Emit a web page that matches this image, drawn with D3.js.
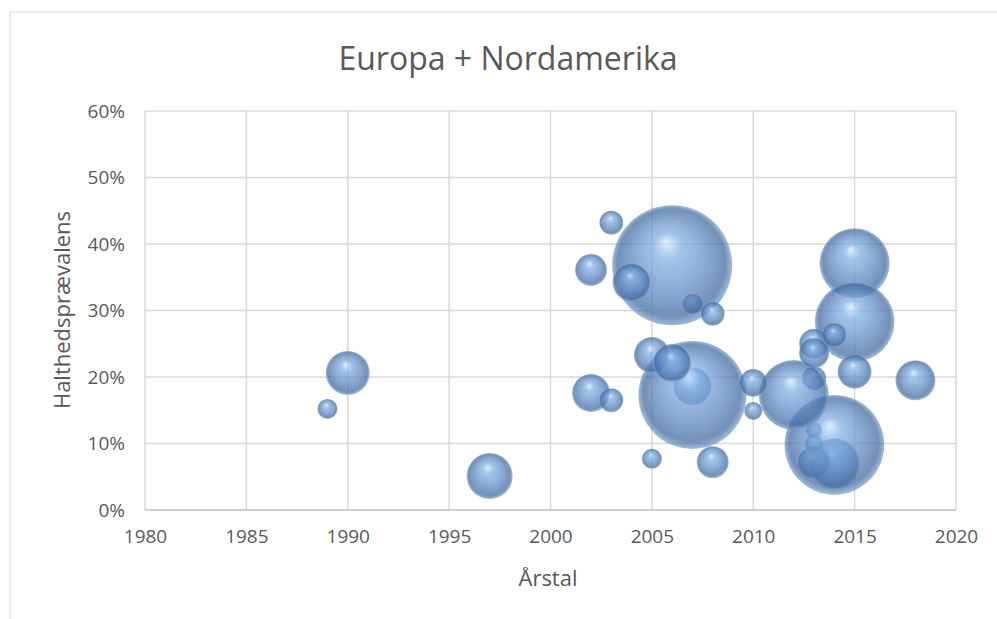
<!DOCTYPE html>
<html>
<head>
<meta charset="utf-8">
<script src="https://cdn.jsdelivr.net/npm/d3@7"></script>
<style>
	body { margin: 0; background: #fff; }
	svg { display: block; }
</style>
</head>
<body>
<svg width="997" height="619"></svg>
<script>
// data: year, prevalence, bubble size
// listed in drawing order (first ones end up behind the big bubbles)
var years = [2007, 2007, 2014, 2013, 2013, 2013, 2013,
	2006, 2007, 2014, 2015, 2015, 2012,
	1989, 1990, 1997, 2002, 2002, 2003, 2003, 2004, 2005, 2005,
	2006, 2008, 2008, 2010, 2010, 2013, 2013, 2014, 2015, 2018];
var prevalence = [0.186, 0.310, 0.070, 0.198, 0.120, 0.100, 0.072,
	0.368, 0.173, 0.098, 0.371, 0.283, 0.173,
	0.152, 0.206, 0.051, 0.361, 0.176, 0.432, 0.165, 0.342, 0.233, 0.077,
	0.221, 0.295, 0.072, 0.191, 0.149, 0.250, 0.236, 0.263, 0.208, 0.195];
var sizes = [1000, 280, 1740, 400, 180, 225, 710,
	10000, 8100, 6900, 3400, 4400, 3400,
	280, 1340, 1470, 710, 1000, 400, 400, 1000, 900, 280,
	1000, 400, 710, 540, 225, 625, 625, 400, 800, 1110];

var xTicks = [1980, 1985, 1990, 1995, 2000, 2005, 2010, 2015, 2020];
var yTicks = [0, 0.1, 0.2, 0.3, 0.4, 0.5, 0.6];

var svg = d3.select("svg"),
	width = +svg.attr("width"),
	height = +svg.attr("height");

var plotLeft = 145, plotRight = 956, plotTop = 111, plotBottom = 510;

var x = d3.scaleLinear().domain([1980, 2020]).range([plotLeft, plotRight]);
var y = d3.scaleLinear().domain([0, 0.6]).range([plotBottom, plotTop]);
var r = d3.scaleSqrt().domain([0, d3.max(sizes)]).range([0, 60]);

var font = "'Open Sans', 'Noto Sans', sans-serif";

// chart frame
svg.append("rect")
	.attr("x", 10).attr("y", 12)
	.attr("width", width + 20).attr("height", height + 20)
	.style("fill", "none")
	.style("stroke", "#d9d9d9")
	.style("stroke-width", 1);

// sphere gradient
var defs = svg.append("defs");
var grad = defs.append("radialGradient")
	.attr("id", "ball")
	.attr("cx", "50%").attr("cy", "50%").attr("r", "50%")
	.attr("fx", "45%").attr("fy", "30%");
grad.append("stop").attr("offset", "0%").attr("stop-color", "#d3eaff");
grad.append("stop").attr("offset", "22%").attr("stop-color", "#86b2e4");
grad.append("stop").attr("offset", "65%").attr("stop-color", "#5d88c0");
grad.append("stop").attr("offset", "90%").attr("stop-color", "#456c9e");
grad.append("stop").attr("offset", "100%").attr("stop-color", "#7ea3d3");

// gridlines
svg.append("g")
	.selectAll("line")
	.data(xTicks)
	.enter().append("line")
	.attr("x1", function (d) { return x(d); })
	.attr("x2", function (d) { return x(d); })
	.attr("y1", plotTop).attr("y2", plotBottom)
	.style("stroke", "#d9d9d9")
	.style("stroke-width", 1.5);

svg.append("g")
	.selectAll("line")
	.data(yTicks)
	.enter().append("line")
	.attr("x1", plotLeft).attr("x2", plotRight)
	.attr("y1", function (d) { return y(d); })
	.attr("y2", function (d) { return y(d); })
	.style("stroke", function (d) { return d == 0 ? "#bfbfbf" : "#d9d9d9"; })
	.style("stroke-width", 1.5);

// tick labels
var xAxis = svg.append("g")
	.attr("transform", "translate(0," + plotBottom + ")")
	.call(d3.axisBottom(x).tickValues(xTicks).tickFormat(d3.format("d")).tickSize(0).tickPadding(20));
var yAxis = svg.append("g")
	.attr("transform", "translate(" + (plotLeft - 20) + ",0)")
	.call(d3.axisLeft(y).tickValues(yTicks).tickFormat(d3.format(".0%")).tickSize(0).tickPadding(0));
[xAxis, yAxis].forEach(function (a) {
	a.select(".domain").remove();
	a.selectAll("text")
		.style("font-family", font)
		.style("font-size", "19px")
		.style("fill", "#595959");
});

// bubbles, in the order of the arrays
var points = years.map(function (d, i) {
	return { year: d, value: prevalence[i], size: sizes[i] };
});

svg.append("g")
	.selectAll("circle")
	.data(points)
	.enter().append("circle")
	.attr("cx", function (d) { return x(d.year); })
	.attr("cy", function (d) { return y(d.value); })
	.attr("r", function (d) { return r(d.size); })
	.style("fill", "url(#ball)")
	.style("fill-opacity", 0.75);

// titles
svg.append("text")
	.attr("x", 508).attr("y", 70)
	.attr("text-anchor", "middle")
	.style("font-family", font)
	.style("font-size", "32px")
	.style("fill", "#595959")
	.text("Europa + Nordamerika");

svg.append("text")
	.attr("x", 548).attr("y", 586)
	.attr("text-anchor", "middle")
	.style("font-family", font)
	.style("font-size", "22px")
	.style("fill", "#595959")
	.text("Årstal");

svg.append("text")
	.attr("transform", "translate(70,310) rotate(-90)")
	.attr("text-anchor", "middle")
	.style("font-family", font)
	.style("font-size", "22px")
	.style("fill", "#595959")
	.text("Halthedsprævalens");
</script>
</body>
</html>
